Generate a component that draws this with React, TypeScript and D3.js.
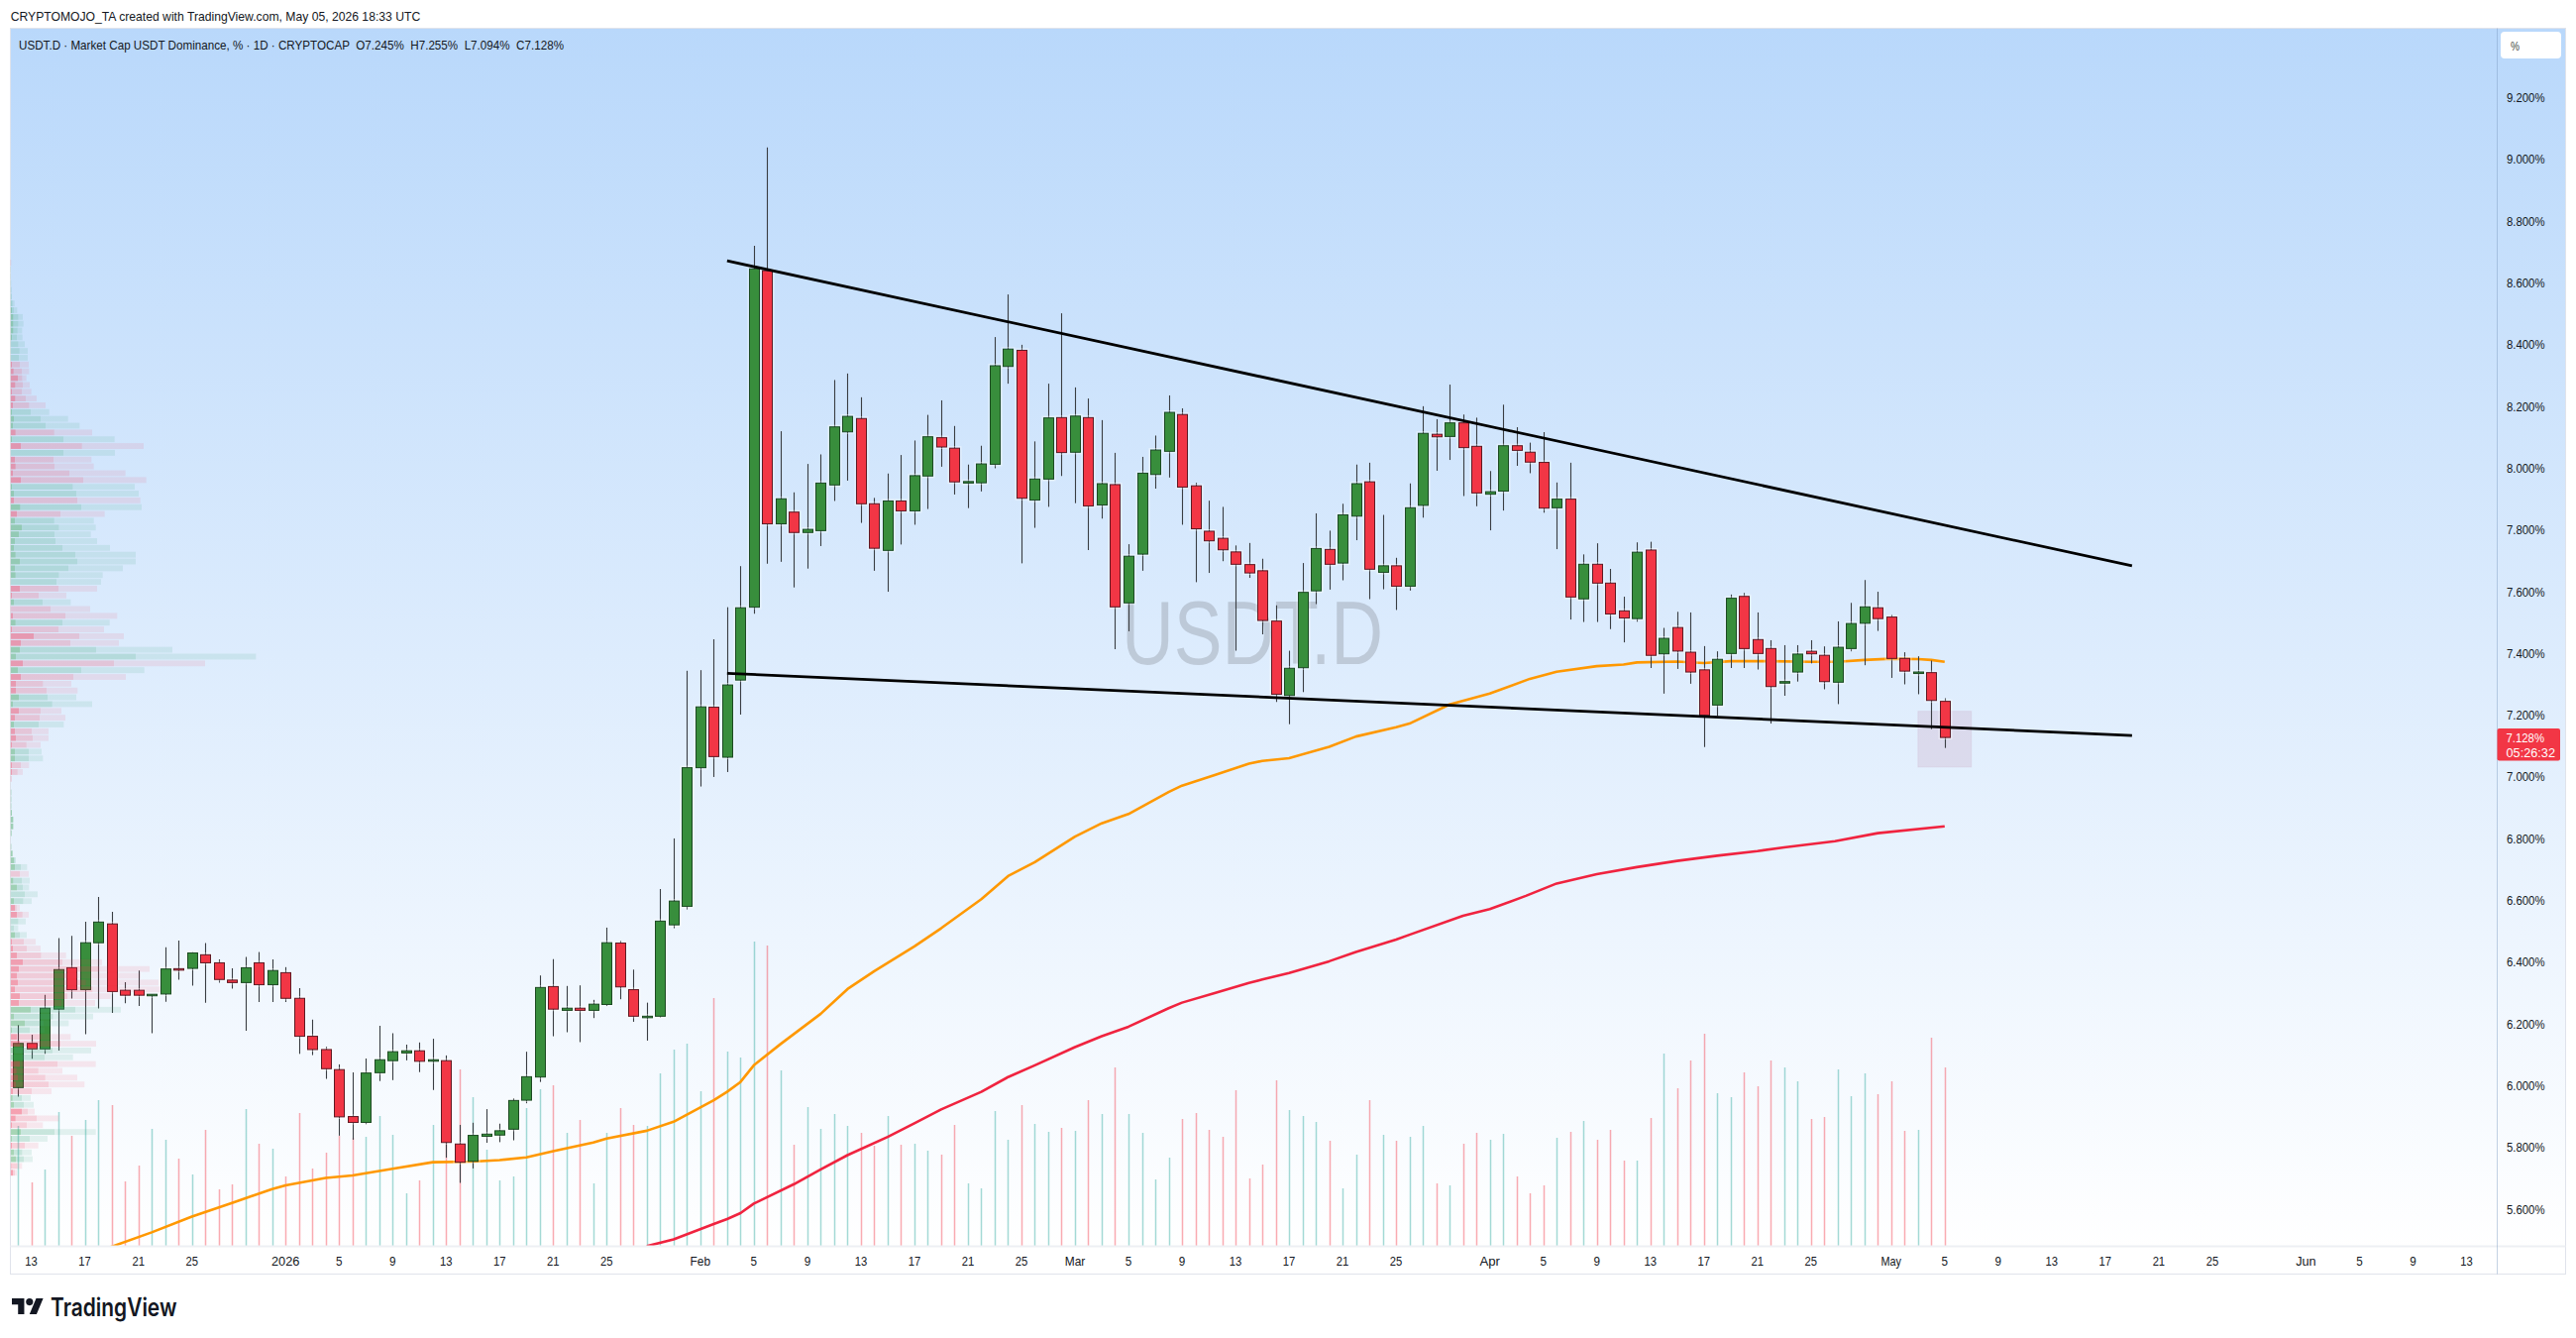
import React from "react";
import * as d3 from "d3";

// ---- Data ----
const firstDay = Date.UTC(2025, 11, 12); // first candle
const candleOpen = [
  5.994,6.137,6.119,6.248,6.382,6.311,6.463,6.524,6.309,6.309,
  6.293,6.297,6.379,6.380,6.424,6.398,6.342,6.334,6.398,6.327,
  6.366,6.283,6.160,6.117,6.052,5.900,5.881,6.042,6.081,6.106,
  6.113,6.080,6.081,5.811,5.755,5.836,5.840,5.859,5.953,6.028,
  6.321,6.244,6.251,6.244,6.263,6.462,6.311,6.221,6.225,6.521,
  6.581,7.030,7.226,7.064,7.314,7.550,8.640,7.820,7.858,7.792,
  7.798,7.946,8.118,8.161,7.885,7.734,7.894,7.862,7.975,8.099,
  8.065,7.955,7.953,8.013,8.330,8.382,7.897,7.965,8.164,8.052,
  8.164,7.881,7.947,7.564,7.722,7.980,8.055,8.174,7.943,7.796,
  7.773,7.729,7.688,7.668,7.505,7.264,7.354,7.603,7.737,7.693,
  7.845,7.956,7.663,7.684,7.618,7.880,8.110,8.103,8.147,8.071,
  7.916,7.926,8.073,8.052,8.019,7.872,7.900,7.577,7.689,7.628,
  7.538,7.513,7.735,7.399,7.484,7.404,7.347,7.233,7.400,7.585,
  7.445,7.416,7.304,7.340,7.407,7.394,7.307,7.416,7.498,7.548,
  7.518,7.384,7.337,7.338,7.245,
];
const candleHigh = [
  6.196,6.165,6.294,6.478,6.485,6.531,6.611,6.563,6.335,6.373,
  6.296,6.448,6.470,6.432,6.462,6.409,6.380,6.417,6.433,6.409,
  6.384,6.316,6.214,6.126,6.069,6.043,6.088,6.194,6.170,6.133,
  6.140,6.152,6.098,5.873,5.880,5.924,5.877,5.959,6.110,6.357,
  6.410,6.323,6.325,6.278,6.512,6.469,6.376,6.269,6.637,6.801,
  7.344,7.346,7.446,7.550,7.683,8.721,9.039,8.120,7.922,8.014,
  8.045,8.286,8.307,8.230,7.904,7.983,8.043,8.090,8.173,8.220,
  8.137,8.012,8.073,8.425,8.563,8.400,8.087,8.274,8.502,8.262,
  8.226,8.156,8.050,7.754,8.037,8.106,8.236,8.194,7.953,7.895,
  7.875,7.750,7.758,7.707,7.556,7.409,7.693,7.854,7.798,7.885,
  8.012,8.018,7.849,7.710,7.951,8.201,8.159,8.271,8.174,8.164,
  7.991,8.206,8.133,8.083,8.117,7.954,8.018,7.721,7.757,7.674,
  7.584,7.760,7.762,7.483,7.535,7.533,7.424,7.407,7.591,7.596,
  7.533,7.443,7.427,7.427,7.443,7.423,7.504,7.564,7.638,7.600,
  7.525,7.404,7.391,7.377,7.255,
];
const candleLow = [
  5.964,6.087,6.103,6.114,6.282,6.167,6.250,6.236,6.267,6.258,
  6.170,6.272,6.343,6.324,6.269,6.334,6.314,6.178,6.271,6.271,
  6.271,6.103,6.099,6.022,5.838,5.825,5.875,6.015,6.018,6.082,
  6.044,5.986,5.767,5.685,5.732,5.815,5.817,5.823,5.943,6.012,
  6.160,6.173,6.141,6.219,6.258,6.280,6.207,6.146,6.221,6.510,
  6.571,6.969,7.000,7.016,7.202,7.529,7.691,7.697,7.614,7.675,
  7.748,7.894,7.960,7.823,7.668,7.600,7.753,7.817,7.868,8.005,
  7.915,7.871,7.925,8.000,8.274,7.692,7.807,7.875,7.975,7.887,
  7.735,7.837,7.414,7.472,7.668,7.934,7.970,7.817,7.631,7.661,
  7.699,7.409,7.645,7.462,7.243,7.171,7.275,7.560,7.607,7.637,
  7.767,7.576,7.608,7.541,7.604,7.840,7.992,8.027,7.910,7.877,
  7.799,7.863,8.008,7.984,7.856,7.738,7.510,7.502,7.502,7.479,
  7.436,7.503,7.353,7.270,7.350,7.302,7.097,7.197,7.353,7.353,
  7.348,7.173,7.263,7.309,7.368,7.284,7.236,7.407,7.362,7.473,
  7.321,7.300,7.268,7.155,7.094,
];
const candleClose = [
  6.137,6.119,6.251,6.376,6.311,6.463,6.530,6.305,6.293,6.293,
  6.296,6.378,6.377,6.430,6.398,6.344,6.334,6.382,6.327,6.373,
  6.283,6.160,6.117,6.055,5.899,5.881,6.041,6.084,6.110,6.113,
  6.079,6.084,5.816,5.752,5.839,5.843,5.854,5.952,6.029,6.318,
  6.248,6.251,6.244,6.264,6.463,6.320,6.225,6.225,6.533,6.598,
  7.030,7.227,7.066,7.298,7.548,8.646,7.820,7.901,7.792,7.802,
  7.952,8.134,8.168,7.885,7.741,7.894,7.862,7.976,8.102,8.069,
  7.956,7.957,8.014,8.332,8.386,7.903,7.965,8.163,8.051,8.169,
  7.878,7.950,7.551,7.715,7.984,8.059,8.181,7.939,7.804,7.765,
  7.736,7.689,7.661,7.507,7.268,7.352,7.598,7.740,7.689,7.849,
  7.950,7.673,7.684,7.618,7.872,8.113,8.102,8.147,8.067,7.920,
  7.924,8.073,8.058,8.020,7.871,7.900,7.583,7.689,7.628,7.528,
  7.515,7.728,7.394,7.449,7.408,7.340,7.200,7.381,7.579,7.416,
  7.400,7.293,7.309,7.398,7.399,7.309,7.420,7.497,7.551,7.513,
  7.384,7.343,7.340,7.248,7.128,
];
const volumes = [
  121,64,77,135,111,127,147,142,65,81,
  118,107,88,72,117,57,62,138,103,98,
  70,134,78,94,111,109,110,131,112,53,
  66,122,112,178,150,97,66,70,139,158,
  162,114,127,63,114,139,122,121,174,198,
  204,156,250,196,190,307,303,177,102,140,
  118,133,121,114,101,131,102,103,96,92,
  122,63,58,136,107,142,123,115,119,116,
  147,133,180,133,114,67,89,128,134,117,
  110,157,68,82,167,137,131,125,106,58,
  92,147,112,106,110,121,63,61,103,114,
  107,113,70,53,61,109,115,126,107,117,
  86,86,129,194,159,187,214,154,150,175,
  161,187,180,166,128,130,178,151,174,153,
  166,116,117,210,180,
];
// moving averages: days after the first candle, and level
const orangeDay = [6,10,13,16,19,20,23,25,28,31,34,36,38,40,43,44,47,49,52,53,54,55,57,60,62,64,67,69,72,74,76,79,81,83,86,87,89.5,92,93,95,98,100,103,104,107,110,113,115,118,120,121,124,126,128,131,134,136,138,140,142,143,144];
const orangeLevel = [5.463,5.525,5.576,5.620,5.665,5.677,5.701,5.709,5.731,5.752,5.754,5.759,5.768,5.788,5.816,5.829,5.854,5.883,5.953,5.980,6.012,6.066,6.135,6.233,6.313,6.371,6.451,6.510,6.604,6.679,6.724,6.807,6.850,6.880,6.951,6.972,7.007,7.043,7.052,7.061,7.098,7.131,7.161,7.173,7.235,7.270,7.318,7.341,7.359,7.364,7.371,7.374,7.369,7.375,7.375,7.373,7.373,7.379,7.383,7.382,7.379,7.373];
const redDay = [47,49,52,53,54,55,58,60,62,65,67,69,72,74,76,79,81,83,86,87,89.5,92,93,95,98,100,103,104,108,110,112.7,115,118,121,124,127,130,132,135.8,139,144];
const redLevel = [5.480,5.502,5.552,5.568,5.587,5.618,5.681,5.729,5.775,5.834,5.878,5.923,5.980,6.028,6.066,6.125,6.160,6.191,6.251,6.269,6.301,6.333,6.344,6.365,6.403,6.433,6.473,6.489,6.550,6.572,6.615,6.655,6.685,6.708,6.728,6.745,6.760,6.772,6.792,6.818,6.840];
const upperLineDays = [53, 158];
const upperLineLevels = [8.672, 7.684];
const lowerLineDays = [53, 158];
const lowerLineLevels = [7.336, 7.134];
const boxDays = [142, 146];
const boxLevels = [7.213, 7.032];
const priceTicks = [9.2,9.0,8.8,8.6,8.4,8.2,8.0,7.8,7.6,7.4,7.2,7.0,6.8,6.6,6.4,6.2,6.0,5.8,5.6];
const timeLabels = ["13","17","21","25","2026","5","9","13","17","21","25","Feb","5","9","13","17","21","25","Mar","5","9","13","17","21","25","Apr","5","9","13","17","21","25","May","5","9","13","17","21","25","Jun","5","9","13"];
const timeDays = [1,5,9,13,20,24,28,32,36,40,44,51,55,59,63,67,71,75,79,83,87,91,95,99,103,110,114,118,122,126,130,134,140,144,148,152,156,160,164,171,175,179,183];
// volume profile rows, top to bottom: side and the three cumulative bar ends
const profileTop = 8.666;
const profileStep = 0.022;
const profileSide = ("rggggg" + "ggggggggg" + "rrrrrrr" + "ggg" + "r" + "g" + "r" + "g" + "rrrr" + "gg" + "r" + "g" + "r" + "gggggggggg" + "rr" + "g" + "rr" + "g" + "rrr" + "gg" + "r" + "g" + "rrr" + "gg" + "rr" + "g" + "rrr" + "gg" + "rr" + "r" + "g" + "gggggggggggg" + "r" + "gggg" + "rr" + "ggg" + "rrrrrrrrrr" + "gggg" + "rr" + "gg" + "rrrrr" + "gg" + "rrr" + "gg" + "r" + "gg" + "rr").split("");
const profileInner = [33,33,33,33,33,33,
  34,36,40,40,40,36,33,33,33,36,41,54,46,36,46,39,36,42,39,47,36,63,32,45,47,39,63,36,42,42,61,51,45,66,57,45,42,47,60,45,47,33,60,36,42,33,39,47,36,102,63,60,48,69,54,63,48,48,57,39,57,45,42,45,48,36,45,45,36,36,
  34,32,34,34,34,36,40,40,35,32,34,38,42,45,33,40,51,33,42,45,51,33,33,45,36,39,51,69,57,51,54,45,60,57,93,42,75,36,51,60,45,66,60,50,54,48,39,38,42,66,47,36,63,36,36,42,48,34,39];
const profileMid = [33,33,33,33,34,35,
  38,42,55,55,53,51,55,59,57,60,66,67,69,66,78,88,93,123,138,164,192,248,192,162,165,210,252,220,231,234,246,183,164,178,165,168,189,228,234,207,178,171,177,117,129,153,198,189,177,240,213,291,411,345,246,222,130,141,144,158,123,120,117,96,99,80,87,87,63,53,
  34,32,34,34,34,36,40,40,35,32,34,38,46,63,60,66,69,75,70,50,68,55,42,60,72,81,124,189,300,235,260,280,204,186,228,160,132,90,125,183,159,135,174,116,137,147,96,66,72,84,111,81,165,90,75,67,72,52,45];
const profileOuter = [34,33,33,34,35,36,
  44,52,69,71,67,68,75,84,84,87,88,80,90,95,111,138,149,206,241,279,347,435,348,277,284,380,443,408,420,425,429,317,284,290,275,294,333,411,411,372,311,306,294,201,214,273,355,332,315,375,360,522,775,621,437,381,216,235,231,279,186,198,193,147,147,123,126,130,88,69,
  34,33,34,34,34,36,40,40,35,33,34,38,48,82,87,90,88,114,96,60,87,78,55,81,108,123,200,309,453,425,480,485,335,288,366,282,208,135,214,291,276,221,290,189,234,256,156,93,102,105,178,130,290,144,116,96,99,67,51];

// ---- Frame ----
const W = 2600, H = 1350;
const chartL = 10.5, chartR = 2589.5, chartT = 28.5, paneB = 1257, chartB = 1285.5, axisX = 2520.5;
const DAY = 86400000;
const dayDate = (d: number) => new Date(firstDay + d * DAY);

const x = d3.scaleUtc().domain([dayDate(0), dayDate(144)]).range([18.1, 1962.8]);
const y = d3.scaleLinear().domain([9.2, 5.6]).range([98.7, 1220]);
const vol = d3.scaleLinear().domain([0, 307]).range([paneB, paneB - 307]);
const prof = d3.scaleLinear().domain([32, 332]).range([10.67, 110.67]);

const orangePath = d3.line<number>().x((d) => x(dayDate(d))).y((_, i) => y(orangeLevel[i]))(orangeDay) || "";
const redPath = d3.line<number>().x((d) => x(dayDate(d))).y((_, i) => y(redLevel[i]))(redDay) || "";

const SANS = "'Liberation Sans', Arial, sans-serif";

function Label(p: { x: number; y: number; w?: number; size?: number; fill?: string; anchor?: string; weight?: number; children: string }) {
  return (
    <text
      x={p.x}
      y={p.y}
      dominantBaseline="central"
      textAnchor={p.anchor || "start"}
      fontFamily={SANS}
      fontSize={p.size || 13.5}
      fontWeight={p.weight || 400}
      fill={p.fill || "#131722"}
      textLength={p.w}
      lengthAdjust={p.w ? "spacingAndGlyphs" : undefined}
      style={{ whiteSpace: "pre" }}
    >
      {p.children}
    </text>
  );
}

function Candles() {
  return (
    <g>
      {candleOpen.map((o, i) => {
        const c = candleClose[i];
        const up = c >= o;
        const cx = Math.round(x(dayDate(i))) + 0.5;
        const top = y(Math.max(o, c));
        const bot = y(Math.min(o, c));
        const bh = Math.max(bot - top, 1.5);
        return (
          <g key={i}>
            <line x1={cx} x2={cx} y1={y(candleHigh[i])} y2={y(candleLow[i])} stroke="#3a3d42" strokeWidth={1.1} />
            <rect x={cx - 6.5} y={top - 1.5} width={13} height={bh + 3} fill="none" stroke="#ffffff" strokeOpacity={0.45} strokeWidth={1} />
            <rect x={cx - 5} y={top} width={10} height={bh} fill={up ? "#388e3c" : "#f23645"} stroke={up ? "#1c4a22" : "#5f1a24"} strokeWidth={1} />
          </g>
        );
      })}
    </g>
  );
}

function Volumes() {
  return (
    <g>
      {volumes.map((v, i) => {
        const up = candleClose[i] >= candleOpen[i];
        const cx = Math.round(x(dayDate(i))) + 0.5;
        return (
          <line key={i} x1={cx} x2={cx} y1={vol(v)} y2={paneB} stroke={up ? "#26a69a" : "#f23645"} strokeOpacity={0.42} strokeWidth={1.5} />
        );
      })}
    </g>
  );
}

function Profile() {
  const rowY = (i: number) => y(profileTop - i * profileStep);
  const h = (y(0) - y(profileStep)) - 1;
  const col = (s: string) =>
    s === "g"
      ? ["rgba(56,160,80,0.42)", "rgba(70,170,130,0.27)", "rgba(70,170,130,0.13)"]
      : ["rgba(242,54,85,0.45)", "rgba(242,54,85,0.22)", "rgba(242,54,85,0.1)"];
  return (
    <g>
      {profileSide.map((s, i) => {
        const yy = rowY(i) - h / 2;
        const [a, b, c] = col(s);
        const x0 = prof(32);
        const x1 = prof(profileInner[i]);
        const x2 = prof(profileMid[i]);
        const x3 = prof(profileOuter[i]);
        return (
          <g key={i}>
            <rect x={x0} y={yy} width={Math.max(x1 - x0, 0)} height={h} fill={a} />
            <rect x={x1} y={yy} width={Math.max(x2 - x1, 0)} height={h} fill={b} />
            <rect x={x2} y={yy} width={Math.max(x3 - x2, 0)} height={h} fill={c} />
          </g>
        );
      })}
    </g>
  );
}

export default function App() {
  return (
    <svg width={W} height={H} viewBox={`0 0 ${W} ${H}`} style={{ position: "absolute", left: 0, top: 0, display: "block", background: "#fff" }}>
      <defs>
        <linearGradient id="bg" x1="0" y1={chartT} x2="0" y2={chartB} gradientUnits="userSpaceOnUse">
          <stop offset="0" stopColor="#b9d8fb" />
          <stop offset="0.98" stopColor="#ffffff" />
        </linearGradient>
        <clipPath id="pane">
          <rect x={chartL} y={chartT} width={axisX - chartL} height={paneB - chartT} />
        </clipPath>
      </defs>
      <rect x={0} y={0} width={W} height={H} fill="#fff" />
      <Label x={10.7} y={16} w={413.5} size={13.5} fill="#131722">CRYPTOMOJO_TA created with TradingView.com, May 05, 2026 18:33 UTC</Label>

      <rect x={chartL} y={chartT} width={chartR - chartL} height={chartB - chartT} fill="url(#bg)" stroke="#e0e3eb" strokeWidth={1} />

      <g clipPath="url(#pane)">
        <text x={1264} y={639} textAnchor="middle" dominantBaseline="central" fontFamily={SANS} fontSize={90} fill="#787b86" fillOpacity={0.3} textLength={264} lengthAdjust="spacingAndGlyphs">USDT.D</text>
        <Volumes />
        <rect
          x={x(dayDate(boxDays[0]))}
          y={y(boxLevels[0])}
          width={x(dayDate(boxDays[1])) - x(dayDate(boxDays[0]))}
          height={y(boxLevels[1]) - y(boxLevels[0])}
          fill="#9c275a"
          fillOpacity={0.1}
          stroke="#9c275a"
          strokeOpacity={0.06}
        />
        <path d={redPath} fill="none" stroke="#f0233f" strokeWidth={2.6} strokeLinejoin="round" />
        <path d={orangePath} fill="none" stroke="#ff9800" strokeWidth={2.6} strokeLinejoin="round" />
        <Candles />
        <line x1={x(dayDate(upperLineDays[0]))} x2={x(dayDate(upperLineDays[1]))} y1={y(upperLineLevels[0])} y2={y(upperLineLevels[1])} stroke="#000" strokeWidth={2.8} />
        <line x1={x(dayDate(lowerLineDays[0]))} x2={x(dayDate(lowerLineDays[1]))} y1={y(lowerLineLevels[0])} y2={y(lowerLineLevels[1])} stroke="#000" strokeWidth={2.8} />
        <Profile />
      </g>

      {/* legend */}
      <Label x={19} y={45} w={550}>{"USDT.D · Market Cap USDT Dominance, % · 1D · CRYPTOCAP  O7.245%  H7.255%  L7.094%  C7.128%"}</Label>

      {/* axes */}
      <line x1={chartL} x2={chartR} y1={paneB + 0.5} y2={paneB + 0.5} stroke="#eef0f4" strokeWidth={2} />
      <line x1={axisX} x2={axisX} y1={chartT} y2={chartB} stroke="#7c9cc0" strokeOpacity={0.45} strokeWidth={1} />
      {timeLabels.map((t, i) => (
        <Label key={i} x={x(dayDate(timeDays[i]))} y={1272.5} anchor="middle" w={t.length === 2 && /\d/.test(t) ? 12.5 : t.length === 1 ? 6.5 : t.length === 4 ? 28.5 : 20.5}>
          {t}
        </Label>
      ))}
      {priceTicks.map((p) => (
        <Label key={p} x={2530} y={y(p)} w={38.5}>{`${p.toFixed(3)}%`}</Label>
      ))}
      <rect x={2524} y={32} width={61} height={27} rx={4} fill="#fff" />
      <Label x={2534} y={46} w={9} fill="#444">%</Label>

      <rect x={2520.5} y={735} width={63.5} height={32.5} rx={2} fill="#f23645" />
      <Label x={2529.5} y={744.5} w={38.5} fill="#fff">7.128%</Label>
      <Label x={2529.5} y={759} w={49.5} fill="#fff">05:26:32</Label>

      {/* logo */}
      <g transform="translate(12,1306.5) scale(0.89)" fill="#131722">
        <path d="M14 22H7V11H0V4h14v18zM28 22h-8l7.5-18h8L28 22z" />
        <circle cx="20" cy="8" r="4" />
      </g>
      <text x={51} y={1319} dominantBaseline="central" fontFamily="Inter, 'Liberation Sans', sans-serif" fontSize={25} fontWeight={600} fill="#131722" textLength={127.5} lengthAdjust="spacingAndGlyphs">TradingView</text>
    </svg>
  );
}
